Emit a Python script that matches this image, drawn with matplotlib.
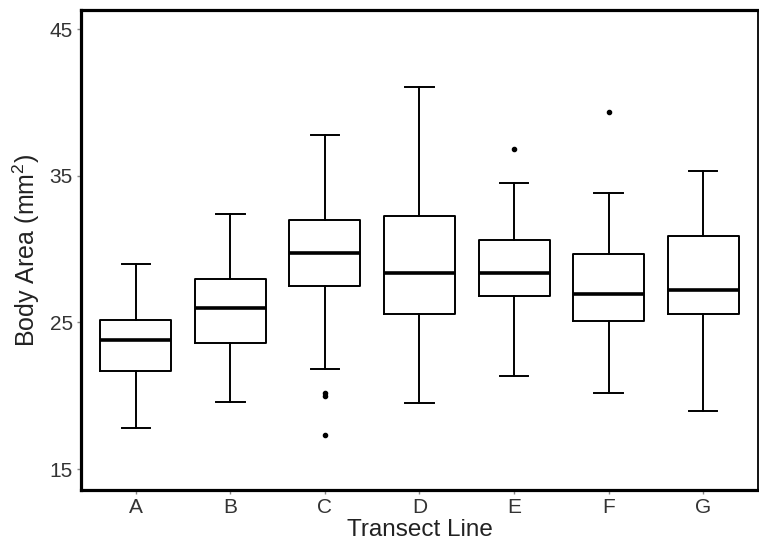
import matplotlib
matplotlib.use("Agg")
import matplotlib.pyplot as plt

plt.rcParams['font.family'] = ['Liberation Sans', 'DejaVu Sans']
plt.rcParams['mathtext.fontset'] = 'custom'
plt.rcParams['mathtext.rm'] = 'Liberation Sans'
plt.rcParams['mathtext.it'] = 'Liberation Sans'

categories = ['A', 'B', 'C', 'D', 'E', 'F', 'G']
whisker_low = [17.8, 19.6, 21.8, 19.5, 21.35, 20.2, 18.95]
q1 = [21.7, 23.6, 27.45, 25.55, 26.8, 25.1, 25.6]
median = [23.8, 26.0, 29.7, 28.4, 28.4, 26.95, 27.2]
q3 = [25.15, 27.95, 32.0, 32.25, 30.65, 29.65, 30.9]
whisker_high = [29.0, 32.4, 37.75, 41.05, 34.5, 33.85, 35.35]
outliers = [[], [], [20.15, 19.95, 17.3], [], [36.8], [39.35], []]
yticks = [15, 25, 35, 45]

stats = []
for i, c in enumerate(categories):
    stats.append(dict(label=c, whislo=whisker_low[i], q1=q1[i], med=median[i],
                      q3=q3[i], whishi=whisker_high[i], fliers=outliers[i]))

fig = plt.figure(figsize=(7.59, 5.44), dpi=100)
ax = fig.add_axes([0.1067, 0.0993, 0.8920, 0.8823])

positions = list(range(1, len(categories) + 1))
ax.bxp(stats, positions=positions, widths=0.75, capwidths=0.3,
       boxprops=dict(color='black', linewidth=1.4),
       whiskerprops=dict(color='black', linewidth=1.4),
       capprops=dict(color='black', linewidth=1.4),
       medianprops=dict(color='black', linewidth=2.6),
       flierprops=dict(marker='o', markersize=3, markerfacecolor='black',
                       markeredgecolor='black', linestyle='none'))

ax.set_xlim(0.42, 7.58)
ax.set_ylim(13.57, 46.3)
ax.set_yticks(yticks)
ax.set_yticklabels([str(t) for t in yticks])
ax.set_xticks(positions)
ax.set_xticklabels(categories)

ax.tick_params(axis='both', length=3, width=1, color='#888888',
               labelsize=15, labelcolor='#333333', pad=3)

for s in ['left', 'bottom', 'top']:
    ax.spines[s].set_linewidth(2.3)
ax.spines['right'].set_linewidth(1.3)
for s in ax.spines.values():
    s.set_color('black')

ax.set_xlabel('Transect Line', fontsize=17.5, color='#222222', labelpad=1)
ax.set_ylabel('Body Area (mm$^2$)', fontsize=18, color='#222222', labelpad=5)

fig.savefig('out.png', dpi=100)
